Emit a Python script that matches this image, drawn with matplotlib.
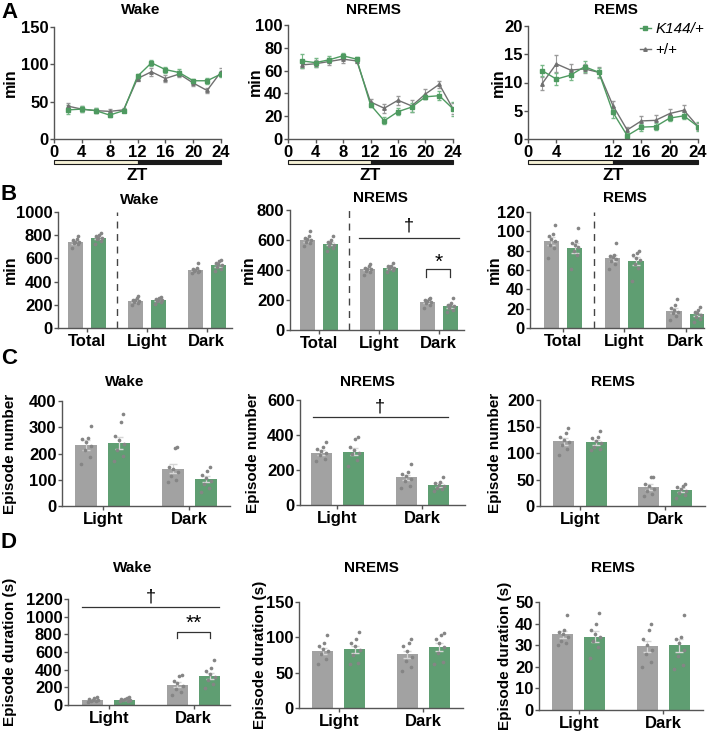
import numpy as np
import matplotlib
matplotlib.use('Agg')
import matplotlib.pyplot as plt
from matplotlib.lines import Line2D
from matplotlib.transforms import blended_transform_factory

plt.rcParams['font.family'] = ['Liberation Sans', 'DejaVu Sans']
plt.rcParams['font.weight'] = 'bold'
plt.rcParams['axes.labelweight'] = 'bold'

# --- colours ---
GRIS_BAR = '#a2a2a2'
VERDE_BAR = '#5f9e72'
GRIS_LIN = '#707070'
VERDE_LIN = '#4e9a60'
PUNTO = '#858585'
ERR = '#d6d6d6'

# --- A: hourly time course (ZT) ---
zt = [2, 4, 6, 8, 10, 12, 14, 16, 18, 20, 22, 24]
wake_wt = [44, 40, 38, 37, 39, 81, 90, 81, 87, 75, 65, 90]
wake_wt_e = [4, 4, 3, 3, 3, 3, 5, 5, 4, 4, 3, 5]
wake_k = [39, 40, 38, 32, 38, 84, 102, 93, 89, 78, 78, 87]
wake_k_e = [6, 4, 3, 3, 2, 3, 4, 4, 5, 3, 4, 4]
nrem_wt = [65, 66, 68, 70, 68.5, 32.5, 27, 34, 29, 39.5, 48, 26.5]
nrem_wt_e = [3, 3, 3, 3, 2, 3, 4, 4, 5, 4, 3, 5]
nrem_k = [68.5, 67, 69.5, 73, 70, 30, 16, 24, 28, 37, 38, 26.5]
nrem_k_e = [6, 4, 3, 2, 2, 2, 3, 3, 4, 2, 4, 6]
rem_wt = [9.8, 13.3, 12.2, 12.4, 11.8, 5.9, 1.6, 3.2, 3.3, 4.5, 5.1, 2.2]
rem_wt_e = [1.2, 1.5, 1.0, 0.8, 1.0, 0.8, 0.5, 0.8, 1.0, 0.8, 1.0, 0.6]
rem_k = [12.1, 10.6, 11.3, 12.8, 11.8, 4.7, 0.6, 2.1, 2.2, 3.7, 4.1, 2.2]
rem_k_e = [1.0, 1.0, 0.9, 1.0, 0.8, 1.0, 0.4, 0.6, 0.6, 0.6, 0.6, 0.8]
fases = [(0, 12, '#f6f1d6'), (12, 24, '#1a1a1a')]

# --- B: total time per phase ---
grupos_b = ['Total', 'Light', 'Dark']
b_wake_wt = [740, 235, 500]
b_wake_wt_e = [12, 8, 12]
b_wake_wt_pts = [[690, 720, 730, 740, 745, 760, 770, 790], [200, 215, 225, 235, 240, 245, 255, 275], [470, 480, 490, 495, 500, 505, 520, 560]]
b_wake_k = [775, 240, 540]
b_wake_k_e = [12, 8, 12]
b_wake_k_pts = [[720, 750, 765, 775, 780, 790, 800, 820], [205, 220, 230, 240, 245, 250, 255, 265], [490, 510, 525, 540, 550, 560, 575, 590]]
b_nrem_wt = [600, 405, 190]
b_nrem_wt_e = [10, 8, 8]
b_nrem_wt_pts = [[560, 580, 590, 600, 605, 615, 625, 660], [370, 385, 395, 405, 410, 415, 425, 440], [150, 165, 180, 190, 195, 200, 210, 215]]
b_nrem_k = [575, 415, 160]
b_nrem_k_e = [10, 6, 10]
b_nrem_k_pts = [[530, 550, 560, 570, 580, 590, 600, 630], [390, 400, 405, 415, 420, 425, 430, 445], [120, 135, 150, 160, 165, 170, 180, 215]]
b_rem_wt = [90, 72, 18]
b_rem_wt_e = [4, 3, 2.5]
b_rem_wt_pts = [[72, 83, 86, 90, 92, 95, 97, 107], [61, 66, 69, 71, 73, 74, 76, 88], [8, 12, 15, 17, 19, 21, 24, 30]]
b_rem_k = [83, 69, 14]
b_rem_k_e = [5, 4, 2]
b_rem_k_pts = [[61, 76, 80, 84, 86, 88, 90, 103], [49, 62, 66, 70, 72, 76, 78, 80], [6, 9, 11, 13, 15, 17, 19, 22]]

# --- C: episode number ---
grupos_cd = ['Light', 'Dark']
c_wake_wt = [232, 142]
c_wake_wt_e = [18, 18]
c_wake_wt_pts = [[160, 185, 215, 230, 245, 255, 260, 305], [90, 100, 115, 130, 140, 150, 220, 225]]
c_wake_k = [240, 103]
c_wake_k_e = [22, 10]
c_wake_k_pts = [[170, 190, 215, 235, 250, 265, 320, 350], [55, 70, 85, 95, 105, 120, 135, 148]]
c_nrem_wt = [300, 158]
c_nrem_wt_e = [12, 16]
c_nrem_wt_pts = [[250, 262, 285, 300, 310, 320, 330, 360], [95, 110, 135, 150, 165, 175, 190, 235]]
c_nrem_k = [305, 113]
c_nrem_k_e = [20, 10]
c_nrem_k_pts = [[225, 260, 290, 300, 315, 330, 375, 390], [80, 90, 100, 110, 115, 125, 130, 160]]
c_rem_wt = [122, 36]
c_rem_wt_e = [6, 5]
c_rem_wt_pts = [[97, 108, 115, 120, 125, 130, 138, 148], [18, 22, 28, 33, 38, 42, 55, 55]]
c_rem_k = [120, 30]
c_rem_k_e = [5, 4]
c_rem_k_pts = [[105, 108, 112, 118, 122, 128, 130, 142], [15, 20, 24, 28, 32, 35, 38, 42]]

# --- D: episode duration (s) ---
d_wake_wt = [60, 230]
d_wake_wt_e = [6, 28]
d_wake_wt_pts = [[35, 45, 50, 58, 62, 68, 75, 85], [110, 150, 180, 220, 250, 270, 330, 340]]
d_wake_k = [62, 330]
d_wake_k_e = [6, 35]
d_wake_k_pts = [[40, 48, 55, 60, 65, 70, 78, 88], [190, 240, 280, 320, 350, 380, 420, 510]]
d_nrem_wt = [81, 76]
d_nrem_wt_e = [4, 5]
d_nrem_wt_pts = [[62, 70, 76, 80, 84, 88, 92, 103], [52, 58, 66, 72, 80, 88, 92, 98]]
d_nrem_k = [83, 86]
d_nrem_k_e = [5, 6]
d_nrem_k_pts = [[62, 64, 75, 82, 88, 92, 98, 107], [62, 65, 78, 86, 92, 98, 103, 106]]
d_rem_wt = [35, 29.5]
d_rem_wt_e = [1.5, 2.5]
d_rem_wt_pts = [[30, 31, 32, 34, 35, 36, 37, 44], [20, 22, 26, 28, 30, 33, 37, 40]]
d_rem_k = [34, 30]
d_rem_k_e = [2.5, 3]
d_rem_k_pts = [[24, 29, 32, 34, 35, 37, 40, 45], [19, 21, 25, 28, 31, 33, 34, 44]]

W, H = 717, 734
fig = plt.figure(figsize=(W / 100, H / 100), dpi=100)

TICK = 12
LAB = 11
TIT = 11


def caja(l, t, r, b):
    return fig.add_axes([l / W, 1 - b / H, (r - l) / W, (b - t) / H])


def texto(x, y, s, **kw):
    fig.text(x / W, 1 - y / H, s, ha='center', va='center', **kw)


def estilo(ax):
    for s in ['top', 'right']:
        ax.spines[s].set_visible(False)
    for s in ['left', 'bottom']:
        ax.spines[s].set_color('#555555')
        ax.spines[s].set_linewidth(1.0)
    ax.tick_params(labelsize=TICK, width=1, length=3, color='#555555', pad=1)


def negrita(ax):
    for t_ in ax.get_xticklabels() + ax.get_yticklabels():
        t_.set_fontweight('bold')


def ylab(ax, s, xpx, l, r, size=LAB):
    ax.set_ylabel(s, fontsize=size, fontweight='bold')
    ax.yaxis.label.set_va('center')
    ax.yaxis.set_label_coords((xpx - l) / (r - l), 0.5)


def curso(box, wt, wt_e, k, k_e, ymax, yt, xt, titulo):
    l, t, r, b = box
    ax = caja(*box)
    estilo(ax)
    ax.errorbar(zt, wt, yerr=wt_e, color=GRIS_LIN, lw=1, marker='^', ms=2.5,
                ecolor='#9a9a9a', elinewidth=0.8, capsize=1.5)
    ax.errorbar(zt, k, yerr=k_e, color=VERDE_LIN, lw=1, marker='s', ms=2.5,
                ecolor='#78b888', elinewidth=0.8, capsize=1.5)
    ax.set_xlim(0, 24)
    ax.set_ylim(0, ymax)
    ax.set_xticks(xt)
    ax.set_yticks(yt)
    negrita(ax)
    tr = blended_transform_factory(ax.transData, ax.transAxes)
    hpx = b - t
    for x0, x1, c in fases:
        ax.add_patch(plt.Rectangle((x0, -21 / hpx), x1 - x0, -4 / hpx, transform=tr,
                                   facecolor=c, edgecolor='#1a1a1a', lw=0.8, clip_on=False))
    ax.text(0.5, -36 / hpx, 'ZT', transform=ax.transAxes, ha='center', va='center', fontsize=12.5)
    texto((l + r) / 2 + 3, 10, titulo, fontsize=TIT)
    return ax


def barras(box, grupos, wt, wt_e, wt_pts, k, k_e, k_pts, ymax, yt, xmin, xmax):
    ax = caja(*box)
    estilo(ax)
    x = np.arange(len(grupos))
    off, w = 0.19, 0.25
    ax.bar(x - off, wt, w, color=GRIS_BAR, zorder=1)
    ax.bar(x + off, k, w, color=VERDE_BAR, zorder=1)
    ax.errorbar(x - off, wt, yerr=wt_e, fmt='none', ecolor=ERR, elinewidth=0.9, capsize=3, zorder=3)
    ax.errorbar(x + off, k, yerr=k_e, fmt='none', ecolor=ERR, elinewidth=0.9, capsize=3, zorder=3)
    jit = np.array([-0.06, 0.04, -0.02, 0.06, 0.0, -0.045, 0.02, 0.05])
    for i in range(len(grupos)):
        for pts, c in [(wt_pts[i], i - off), (k_pts[i], i + off)]:
            ax.scatter(c + jit[:len(pts)], pts, s=7, marker='o', color=PUNTO, lw=0, zorder=4)
    ax.set_xticks(x)
    ax.set_xticklabels(grupos)
    ax.set_xlim(xmin, xmax)
    ax.set_ylim(0, ymax)
    ax.set_yticks(yt)
    negrita(ax)
    return ax


# ---------------- Row A ----------------
a1 = curso((54, 27, 221, 139), wake_wt, wake_wt_e, wake_k, wake_k_e, 150, [0, 50, 100, 150],
           [0, 4, 8, 12, 16, 20, 24], 'Wake')
ylab(a1, 'min', 10, 54, 221, 11.5)
a2 = curso((288, 25, 453, 139), nrem_wt, nrem_wt_e, nrem_k, nrem_k_e, 100, [0, 20, 40, 60, 80, 100],
           [0, 4, 8, 12, 16, 20, 24], 'NREMS')
ylab(a2, 'min', 255, 288, 453, 11.5)
a3 = curso((528, 26, 698, 139), rem_wt, rem_wt_e, rem_k, rem_k_e, 20, [0, 5, 10, 15, 20],
           [0, 4, 12, 16, 20, 24], 'REMS')
ylab(a3, 'min', 498, 528, 698, 11.5)
hand = [Line2D([], [], color=VERDE_LIN, marker='s', ms=2.5, lw=1),
        Line2D([], [], color=GRIS_LIN, marker='^', ms=2.5, lw=1)]
leg = fig.legend(hand, ['K144/+', '+/+'], loc='upper left', bbox_to_anchor=(640 / W, 1 - 22 / H),
                 frameon=False, fontsize=11, handlelength=0.7, handletextpad=0.3, labelspacing=0.45,
                 borderaxespad=0, borderpad=0)
leg.get_texts()[0].set_style('italic')
for t_ in leg.get_texts():
    t_.set_weight('normal')

# ---------------- Row B ----------------
b1 = barras((58, 212, 232, 328), grupos_b, b_wake_wt, b_wake_wt_e, b_wake_wt_pts,
            b_wake_k, b_wake_k_e, b_wake_k_pts, 1000, [0, 200, 400, 600, 800, 1000], -0.48, 2.42)
ylab(b1, 'min', 10, 58, 232, 11.5)
b2 = barras((290, 210, 464, 330), grupos_b, b_nrem_wt, b_nrem_wt_e, b_nrem_wt_pts,
            b_nrem_k, b_nrem_k_e, b_nrem_k_pts, 800, [0, 200, 400, 600, 800], -0.48, 2.42)
ylab(b2, 'min', 248, 290, 464, 11.5)
b3 = barras((530, 212, 704, 328), grupos_b, b_rem_wt, b_rem_wt_e, b_rem_wt_pts,
            b_rem_k, b_rem_k_e, b_rem_k_pts, 120, [0, 20, 40, 60, 80, 100, 120], -0.54, 2.3)
ylab(b3, 'min', 494, 530, 704, 11.5)
for ax in [b1, b2, b3]:
    ax.axvline(0.5, color='#444444', lw=1, ls=(0, (5, 4)), ymax=1.0)
texto(140, 200, 'Wake', fontsize=TIT)
texto(380, 198, 'NREMS', fontsize=TIT)
texto(625, 198, 'REMS', fontsize=TIT)
# significance in B NREMS
b2.plot([0.67, 2.33], [613, 613], color='#333333', lw=0.9, clip_on=False)
b2.text(1.5, 690, '†', ha='center', va='center', fontsize=13, fontweight='normal')
b2.plot([1.79, 1.79, 2.19, 2.19], [353, 407, 407, 353], color='#333333', lw=0.9)
b2.text(1.99, 450, '*', ha='center', va='center', fontsize=15, fontweight='normal')

# ---------------- Row C ----------------
c1 = barras((62, 401, 230, 506), grupos_cd, c_wake_wt, c_wake_wt_e, c_wake_wt_pts,
            c_wake_k, c_wake_k_e, c_wake_k_pts, 400, [0, 100, 200, 300, 400], -0.47, 1.47)
ylab(c1, 'Episode number', 10, 62, 230)
c2 = barras((300, 400, 465, 505), grupos_cd, c_nrem_wt, c_nrem_wt_e, c_nrem_wt_pts,
            c_nrem_k, c_nrem_k_e, c_nrem_k_pts, 600, [0, 200, 400, 600], -0.44, 1.5)
ylab(c2, 'Episode number', 253, 300, 465)
c3 = barras((540, 400, 705, 506), grupos_cd, c_rem_wt, c_rem_wt_e, c_rem_wt_pts,
            c_rem_k, c_rem_k_e, c_rem_k_pts, 200, [0, 50, 100, 150, 200], -0.47, 1.47)
ylab(c3, 'Episode number', 495, 540, 705)
texto(125, 382, 'Wake', fontsize=TIT)
texto(367, 382, 'NREMS', fontsize=TIT)
texto(613, 382, 'REMS', fontsize=TIT)
c2.plot([-0.29, 1.30], [503, 503], color='#333333', lw=0.9, clip_on=False)
c2.text(0.5, 560, '†', ha='center', va='center', fontsize=13, fontweight='normal')

# ---------------- Row D ----------------
d1 = barras((68, 599, 230, 705), grupos_cd, d_wake_wt, d_wake_wt_e, d_wake_wt_pts,
            d_wake_k, d_wake_k_e, d_wake_k_pts, 1200, [0, 200, 400, 600, 800, 1000, 1200], -0.48, 1.43)
ylab(d1, 'Episode duration (s)', 10, 68, 230)
d2 = barras((299, 602, 463, 708), grupos_cd, d_nrem_wt, d_nrem_wt_e, d_nrem_wt_pts,
            d_nrem_k, d_nrem_k_e, d_nrem_k_pts, 150, [0, 50, 100, 150], -0.47, 1.47)
ylab(d2, 'Episode duration (s)', 260, 299, 463)
d3 = barras((539, 602, 703, 710), grupos_cd, d_rem_wt, d_rem_wt_e, d_rem_wt_pts,
            d_rem_k, d_rem_k_e, d_rem_k_pts, 50, [0, 10, 20, 30, 40, 50], -0.47, 1.47)
ylab(d3, 'Episode duration (s)', 505, 539, 703)
texto(133, 568, 'Wake', fontsize=TIT)
texto(371, 568, 'NREMS', fontsize=TIT)
texto(613, 568, 'REMS', fontsize=TIT)
d1.plot([-0.31, 1.30], [1107, 1107], color='#333333', lw=0.9, clip_on=False)
d1.text(0.5, 1220, '†', ha='center', va='center', fontsize=13, fontweight='normal', clip_on=False)
d1.plot([0.81, 0.81, 1.19, 1.19], [757, 825, 825, 757], color='#333333', lw=0.9)
d1.text(1.0, 920, '**', ha='center', va='center', fontsize=15, fontweight='normal')

# panel letters
for s, (x, y) in zip('ABCD', [(10, 12), (9, 194), (9, 358), (9, 543)]):
    texto(x, y, s, fontsize=16)

fig.savefig('out.png', dpi=100)
